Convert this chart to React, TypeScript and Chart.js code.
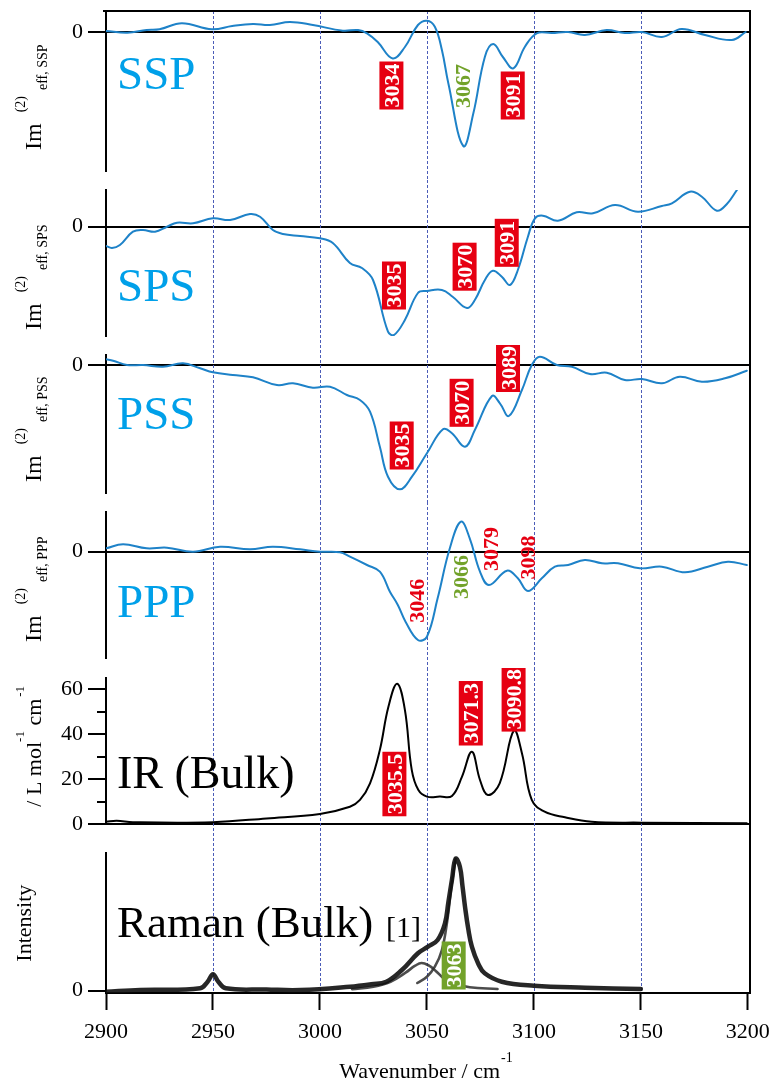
import { useEffect, useRef } from 'react';
import { Chart, registerables } from 'chart.js';

Chart.register(...registerables);

const SERIF = "'Liberation Serif', 'Times New Roman', Times, serif";
const CURVE_BLUE = '#1e82c8';
const LABEL_BLUE = '#00a0e9';
const RED = '#e60012';
const GREEN = '#72a22a';
const GUIDE = '#4b5cb8';

const X_MIN = 2900;
const X_MAX = 3201;
const xTickValues = [2900, 2950, 3000, 3050, 3100, 3150, 3200];
const guideValues = [2950, 3000, 3050, 3100, 3150];

// ---- SSP ----
const sspWavenumber = [2900, 2910, 2919, 2925, 2935.5, 2949.5, 2959, 2968.7, 2976.6, 2986, 2996.7, 3010.7, 3017.8, 3022, 3027, 3034, 3039.7, 3045.8, 3050, 3053.7, 3057, 3060, 3067, 3071.7, 3077.1, 3081, 3085.5, 3090.4, 3095.8, 3101.3, 3108.4, 3116, 3123.8, 3134, 3142.5, 3150.5, 3159.8, 3169, 3180, 3192.5, 3199];
const sspIm = [1, -0.7, 2, 2.7, 8.7, 2.7, 6, 8, 7, 10, 7, 1.3, 2, -1.3, -10, -26.5, -15, 7, 11.3, 5.3, -18, -51.3, -114, -81.3, -24.7, -12, -25, -36.3, -14.7, -1.3, -1, 0, -3, 2, -1, 0, -5, 3, -3, -8, 0];

// ---- SPS ----
const spsWavenumber = [2900, 2902.8, 2906.5, 2912.6, 2917.3, 2922.9, 2928.5, 2933.2, 2940.7, 2950, 2958, 2967.3, 2972, 2978, 2982.7, 2990.7, 3000, 3006, 3014, 3019.6, 3024.8, 3031.8, 3034.6, 3039.7, 3045.8, 3050, 3057, 3062, 3068.7, 3072.4, 3077.1, 3080.8, 3085, 3088.8, 3092.5, 3097.2, 3100.5, 3104.2, 3111.2, 3120, 3127.6, 3137.9, 3148.6, 3159.8, 3164.5, 3172.9, 3178.5, 3185.5, 3190.2, 3194.9];
const spsIm = [-19.3, -21.3, -18.3, -5, -3.3, -5, 0, 4, 3.4, 8.4, 6.7, 12.7, 10, -3.3, -7.3, -9.3, -11.6, -16.3, -36.3, -41.3, -53.3, -105, -108.3, -93.3, -66.3, -64.3, -63.3, -70, -81.3, -73.3, -53.3, -44, -50, -58.3, -43.3, -10, 8.4, 11, 6, 14.4, 13.4, 21.7, 15, 20.7, 23.4, 35, 30, 16, 22.7, 36.7];

// ---- PSS ----
const pssWavenumber = [2900, 2903.3, 2909.8, 2917.3, 2926.6, 2936, 2944, 2950, 2959.3, 2968.7, 2979.9, 2987.4, 2996.7, 3004.7, 3012.6, 3018.7, 3023.4, 3028, 3031.8, 3037.4, 3043, 3050, 3057.5, 3061.7, 3067.8, 3072.4, 3080.4, 3084.1, 3088.3, 3094.4, 3099, 3102.8, 3110.7, 3117.8, 3126.2, 3134.1, 3142.5, 3150.5, 3159.8, 3168.2, 3178.5, 3189.3, 3199.5];
const pssIm = [6, 4.6, 0.3, 0.3, -1.4, 2, -3, -7, -9.7, -12, -19.7, -18, -22.4, -21.4, -29.7, -34.7, -46.4, -81.4, -111.4, -124, -111.4, -88, -64, -68, -81.4, -64.7, -30.7, -38, -50.7, -24.7, 0.3, 8.6, 0.3, -1.4, -8.7, -7.4, -14.7, -13.7, -18, -11.4, -16.4, -13, -5.4];

// ---- PPP ----
const pppWavenumber = [2900, 2908, 2919, 2928.5, 2940.7, 2953.3, 2967.3, 2978, 2990.7, 3000, 3009.3, 3014, 3022, 3028, 3032.7, 3036.4, 3040, 3045.8, 3050, 3055, 3060.7, 3065.9, 3070, 3074.8, 3079, 3087.4, 3092.5, 3097.2, 3103.7, 3109.8, 3116, 3123.8, 3131.8, 3139.3, 3149.5, 3159.8, 3170.6, 3181.3, 3190.7, 3199.5];
const pppIm = [3.4, 7.4, 3.4, 4, 0, 5, 2.4, 5, 2.4, 0, -0.6, -5, -13.3, -20, -40, -53.3, -70, -88.3, -85, -46.6, 3.4, 30, 13.4, -20, -33.3, -19, -26.6, -39.3, -26.6, -15, -13.3, -8.3, -11.6, -11.6, -16.6, -15, -20.6, -15, -10, -13.3];

// ---- IR (bulk), L mol-1 cm-1 ----
const irWavenumber = [2900, 2905, 2912.6, 2950, 2975, 3000, 3014, 3018.7, 3023.4, 3028, 3032, 3036.1, 3039.7, 3042.9, 3046, 3050, 3056, 3061.7, 3066.4, 3071, 3074.8, 3078.5, 3084, 3090.6, 3094.4, 3099, 3105, 3114.5, 3127, 3150.5, 3199.5];
const irAbsorbance = [1.0, 1.5, 0.8, 0.8, 2.5, 4.5, 7.7, 10.7, 18.1, 33, 52.2, 62.4, 50.8, 24.1, 15.1, 12.2, 12.2, 12.5, 21.1, 32.2, 19.6, 12.9, 18.1, 41.6, 31.5, 10.7, 5.5, 3.0, 1.0, 0.6, 0.3];
const irTicks = [0, 20, 40, 60];
const irMinorTicks = [10, 30, 50];

// ---- Raman (bulk) ----
const ramanWavenumber = [2900, 2916, 2944, 2947.5, 2950, 2952.5, 2956, 2975, 2991, 3014, 3024, 3031, 3038.3, 3045.8, 3050.5, 3055, 3058.4, 3060, 3061.7, 3063.4, 3065.4, 3066.6, 3067.8, 3069.3, 3071, 3074, 3077, 3085, 3100, 3124, 3150];
const ramanIntensity = [-1, 0.7, 2.4, 9, 16.4, 9, 2.4, 1.2, 0.7, 4, 6.5, 9, 20.7, 37.4, 44, 50.7, 67, 88, 111, 132, 124, 105, 84, 62, 44, 27, 17.4, 9, 5, 3, 1.7];
const ramanBandAWavenumber = [3015, 3025, 3033, 3040, 3044.5, 3047.5, 3051, 3054, 3058, 3062, 3070, 3083];
const ramanBandAIntensity = [1.5, 4, 9, 18, 25, 27.7, 25, 20, 12, 7.5, 3.5, 1.7];
const ramanBandBWavenumber = [3045.5, 3050, 3053.7, 3057, 3059.5, 3061.5, 3063.4];
const ramanBandBIntensity = [7.7, 14, 24, 40.7, 70, 105, 132];

type Seg = { text: string; size: number; dy: number; gap?: number };
type Ann = { text: string; x: number; y: number; box: boolean; color: string };
type Series = { xs: number[]; ys: number[]; color: string; width: number };
type Panel = {
  key: string;
  top: number;
  height: number;
  padTop: number;
  padBottom: number;
  yMin: number;
  yMax: number;
  yTicks: number[];
  minorTicks?: number[];
  zeroLine: boolean;
  series: Series[];
  name: string;
  nameSize: number;
  nameColor: string;
  nameDy: number;
  title: Seg[];
  titleX: number;
  titleDy: number;
  anns: Ann[];
  first?: boolean;
  last?: boolean;
};

const imTitle = (pol: string): Seg[] => [
  { text: 'Im', size: 24, dy: 0, gap: 11 },
  { text: '(2)', size: 14, dy: -15.5, gap: 6 },
  { text: 'eff, ' + pol, size: 14, dy: 6 },
];

const panels: Panel[] = [
  {
    key: 'ssp', top: 0, height: 180, padTop: 11, padBottom: 9, yMin: -139, yMax: 21, yTicks: [0], zeroLine: true,
    series: [{ xs: sspWavenumber, ys: sspIm, color: CURVE_BLUE, width: 2 }],
    name: 'SSP', nameSize: 47, nameColor: LABEL_BLUE, nameDy: 78,
    title: imTitle('SSP'), titleX: 40.5, titleDy: 139,
    anns: [
      { text: '3034', x: 3033.4, y: -53.5, box: true, color: RED },
      { text: '3067', x: 3066.7, y: -54, box: false, color: GREEN },
      { text: '3091', x: 3090.1, y: -63.5, box: true, color: RED },
    ],
    first: true,
  },
  {
    key: 'sps', top: 180, height: 165, padTop: 10, padBottom: 9, yMin: -109.3, yMax: 36.7, yTicks: [0], zeroLine: true,
    series: [{ xs: spsWavenumber, ys: spsIm, color: CURVE_BLUE, width: 2 }],
    name: 'SPS', nameSize: 47, nameColor: LABEL_BLUE, nameDy: 111,
    title: imTitle('SPS'), titleX: 40.5, titleDy: 140,
    anns: [
      { text: '3035', x: 3034.6, y: -58.8, box: true, color: RED },
      { text: '3070', x: 3067.6, y: -40, box: true, color: RED },
      { text: '3091', x: 3087.3, y: -16.1, box: true, color: RED },
    ],
  },
  {
    key: 'pss', top: 345, height: 157, padTop: 10, padBottom: 9, yMin: -127.7, yMax: 10.3, yTicks: [0], zeroLine: true,
    series: [{ xs: pssWavenumber, ys: pssIm, color: CURVE_BLUE, width: 2 }],
    name: 'PSS', nameSize: 47, nameColor: LABEL_BLUE, nameDy: 74,
    title: imTitle('PSS'), titleX: 40.5, titleDy: 127,
    anns: [
      { text: '3035', x: 3038.2, y: -80.2, box: true, color: RED },
      { text: '3070', x: 3066.2, y: -37.5, box: true, color: RED },
      { text: '3089', x: 3087.9, y: -2.7, box: true, color: RED },
    ],
  },
  {
    key: 'ppp', top: 502, height: 166, padTop: 10, padBottom: 10, yMin: -106.3, yMax: 39.7, yTicks: [0], zeroLine: true,
    series: [{ xs: pppWavenumber, ys: pppIm, color: CURVE_BLUE, width: 2 }],
    name: 'PPP', nameSize: 47, nameColor: LABEL_BLUE, nameDy: 105,
    title: imTitle('PPP'), titleX: 40.5, titleDy: 130,
    anns: [
      { text: '3046', x: 3045.2, y: -49.1, box: false, color: RED },
      { text: '3066', x: 3065.5, y: -25.3, box: false, color: GREEN },
      { text: '3079', x: 3079.9, y: 2.7, box: false, color: RED },
      { text: '3098', x: 3097.1, y: -5.8, box: false, color: RED },
    ],
  },
  {
    key: 'ir', top: 668, height: 170, padTop: 10, padBottom: 14, yMin: 0, yMax: 65, yTicks: irTicks, minorTicks: irMinorTicks, zeroLine: true,
    series: [{ xs: irWavenumber, ys: irAbsorbance, color: '#000000', width: 2 }],
    name: 'IR (Bulk)', nameSize: 46, nameColor: '#000000', nameDy: 110,
    title: [
      { text: '/ L mol', size: 22, dy: 0, gap: 0 },
      { text: '-1', size: 13, dy: -17, gap: 0 },
      { text: ' cm', size: 22, dy: 0, gap: 2 },
      { text: '-1', size: 13, dy: -17 },
    ],
    titleX: 40.5, titleDy: 128.7,
    anns: [
      { text: '3035.5', x: 3034.8, y: 17.8, box: true, color: RED },
      { text: '3071.3', x: 3070.5, y: 49.3, box: true, color: RED },
      { text: '3090.8', x: 3090.5, y: 55.5, box: true, color: RED },
    ],
  },
  {
    key: 'raman', top: 838, height: 244, padTop: 15, padBottom: 0, yMin: -2.3, yMax: 137.7, yTicks: [0], zeroLine: false,
    series: [
      { xs: ramanWavenumber, ys: ramanIntensity, color: 'rgba(15,15,15,0.9)', width: 4.5 },
      { xs: ramanBandAWavenumber, ys: ramanBandAIntensity, color: 'rgba(45,45,45,0.85)', width: 2.6 },
      { xs: ramanBandBWavenumber, ys: ramanBandBIntensity, color: 'rgba(45,45,45,0.85)', width: 2.6 },
    ],
    name: 'Raman (Bulk)', nameSize: 45, nameColor: '#000000', nameDy: 84,
    title: [{ text: 'Intensity', size: 22, dy: 0 }],
    titleX: 30.5, titleDy: 108.7,
    anns: [{ text: '3063', x: 3062.5, y: 25.2, box: true, color: GREEN }],
    last: true,
  },
];

function drawRotated(ctx: CanvasRenderingContext2D, x: number, y: number, segs: Seg[]) {
  ctx.save();
  ctx.translate(x, y);
  ctx.rotate(-Math.PI / 2);
  ctx.textAlign = 'left';
  ctx.textBaseline = 'alphabetic';
  ctx.fillStyle = '#000';
  let u = 0;
  for (const s of segs) {
    ctx.font = `${s.size}px ${SERIF}`;
    ctx.fillText(s.text, u, s.dy);
    u += ctx.measureText(s.text).width + (s.gap ?? 0);
  }
  ctx.restore();
}

function makePlugin(p: Panel) {
  return {
    id: 'overlay_' + p.key,
    beforeDatasetsDraw(chart: any) {
      const ctx: CanvasRenderingContext2D = chart.ctx;
      const a = chart.chartArea;
      const xs = chart.scales.x;
      const y0 = p.first ? a.top : 0;
      const y1 = p.last ? a.bottom : chart.height;
      ctx.save();
      ctx.strokeStyle = GUIDE;
      ctx.lineWidth = 1;
      ctx.setLineDash([3, 2]);
      for (const v of guideValues) {
        const px = Math.round(xs.getPixelForValue(v)) + 0.5;
        ctx.beginPath();
        ctx.moveTo(px, y0);
        ctx.lineTo(px, y1);
        ctx.stroke();
      }
      ctx.restore();
    },
    afterDraw(chart: any) {
      const ctx: CanvasRenderingContext2D = chart.ctx;
      const a = chart.chartArea;
      const xs = chart.scales.x;
      const ys = chart.scales.y;
      ctx.save();
      ctx.setLineDash([]);
      ctx.strokeStyle = '#000';
      ctx.lineWidth = 2;
      ctx.beginPath();
      ctx.moveTo(a.right, p.first ? a.top - 1 : 0);
      ctx.lineTo(a.right, p.last ? a.bottom + 1 : chart.height);
      ctx.stroke();
      if (p.first) {
        ctx.beginPath();
        ctx.moveTo(a.left - 3, a.top);
        ctx.lineTo(a.right + 1, a.top);
        ctx.stroke();
      }
      for (const v of p.minorTicks || []) {
        const y = Math.round(ys.getPixelForValue(v));
        ctx.beginPath();
        ctx.moveTo(a.left - 9, y);
        ctx.lineTo(a.left, y);
        ctx.stroke();
      }
      ctx.textAlign = 'left';
      ctx.textBaseline = 'alphabetic';
      ctx.fillStyle = p.nameColor;
      ctx.font = `${p.nameSize}px ${SERIF}`;
      ctx.fillText(p.name, a.left + 11, a.top + p.nameDy);
      if (p.last) {
        ctx.font = `30px ${SERIF}`;
        ctx.fillText('[1]', 386, a.top + p.nameDy);
      }
      drawRotated(ctx, p.titleX, a.top + p.titleDy, p.title);
      for (const an of p.anns) {
        const cx = xs.getPixelForValue(an.x);
        const cy = ys.getPixelForValue(an.y);
        ctx.save();
        ctx.translate(cx, cy);
        ctx.rotate(-Math.PI / 2);
        ctx.font = `bold 22px ${SERIF}`;
        const w = ctx.measureText(an.text).width;
        if (an.box) {
          ctx.fillStyle = an.color;
          ctx.fillRect(-w / 2 - 2, -12, w + 4, 24);
          ctx.fillStyle = '#ffffff';
        } else {
          ctx.fillStyle = an.color;
        }
        ctx.textAlign = 'center';
        ctx.textBaseline = 'alphabetic';
        ctx.fillText(an.text, 0, 7.5);
        ctx.restore();
      }
      if (p.last) {
        const main = 'Wavenumber / cm';
        ctx.fillStyle = '#000';
        ctx.font = `22px ${SERIF}`;
        const w1 = ctx.measureText(main).width;
        ctx.font = `14px ${SERIF}`;
        const w2 = ctx.measureText('-1').width;
        const x0 = 425.5 - (w1 + w2) / 2;
        const base = 240;
        ctx.font = `22px ${SERIF}`;
        ctx.fillText(main, x0, base);
        ctx.font = `14px ${SERIF}`;
        ctx.fillText('-1', x0 + w1 + 1, base - 16);
      }
      ctx.restore();
    },
  };
}

function makeConfig(p: Panel): any {
  return {
    type: 'line',
    data: {
      datasets: p.series.map((s) => ({
        data: s.xs.map((x, i) => ({ x, y: s.ys[i] })),
        borderColor: s.color,
        borderWidth: s.width,
        pointRadius: 0,
        fill: false,
        tension: 0.4,
        borderCapStyle: 'round',
        borderJoinStyle: 'round',
      })),
    },
    options: {
      responsive: false,
      animation: false,
      events: [],
      layout: { padding: { top: p.padTop, bottom: p.padBottom, left: 0, right: 25 } },
      plugins: { legend: { display: false }, tooltip: { enabled: false }, title: { display: false } },
      scales: {
        x: {
          type: 'linear',
          min: X_MIN,
          max: X_MAX,
          display: !!p.last,
          afterBuildTicks: (s: any) => {
            s.ticks = xTickValues.map((v) => ({ value: v }));
          },
          afterFit: (s: any) => {
            if (p.last) {
              s.height = 89;
              s.paddingLeft = 0;
              s.paddingRight = 0;
            }
          },
          grid: { drawOnChartArea: false, drawTicks: true, tickLength: 17, tickColor: '#000', tickWidth: 2 },
          border: { display: true, color: '#000', width: 2 },
          ticks: {
            color: '#000',
            font: { family: SERIF, size: 22 },
            padding: 9,
            maxRotation: 0,
            autoSkip: false,
            callback: (v: any) => String(v),
          },
        },
        y: {
          type: 'linear',
          min: p.yMin,
          max: p.yMax,
          afterBuildTicks: (s: any) => {
            s.ticks = p.yTicks.map((v) => ({ value: v }));
          },
          afterFit: (s: any) => {
            s.width = 106;
            s.paddingTop = 0;
            s.paddingBottom = 0;
          },
          grid: {
            drawOnChartArea: true,
            color: (c: any) => (p.zeroLine && c.tick && c.tick.value === 0 ? '#000' : 'rgba(0,0,0,0)'),
            lineWidth: 2,
            tickLength: 18,
            tickColor: '#000',
            tickWidth: 2,
          },
          border: { display: true, color: '#000', width: 2 },
          ticks: { color: '#000', font: { family: SERIF, size: 22 }, padding: 5, callback: (v: any) => String(v) },
        },
      },
    },
    plugins: [makePlugin(p)],
  };
}

function PanelCanvas({ p }: { p: Panel }) {
  const ref = useRef<HTMLCanvasElement | null>(null);
  useEffect(() => {
    const c = ref.current;
    if (!c) return;
    const chart = new Chart(c, makeConfig(p));
    return () => chart.destroy();
  }, [p]);
  return (
    <canvas
      ref={ref}
      width={775}
      height={p.height}
      style={{ position: 'absolute', left: 0, top: p.top, width: 775, height: p.height, display: 'block' }}
    />
  );
}

export default function App() {
  useEffect(() => {
    document.body.style.overflow = 'hidden';
  }, []);
  return (
    <div style={{ position: 'absolute', left: 0, top: 0, width: 775, height: 1082, background: '#fff', overflow: 'hidden' }}>
      {panels.map((p) => (
        <PanelCanvas key={p.key} p={p} />
      ))}
    </div>
  );
}
